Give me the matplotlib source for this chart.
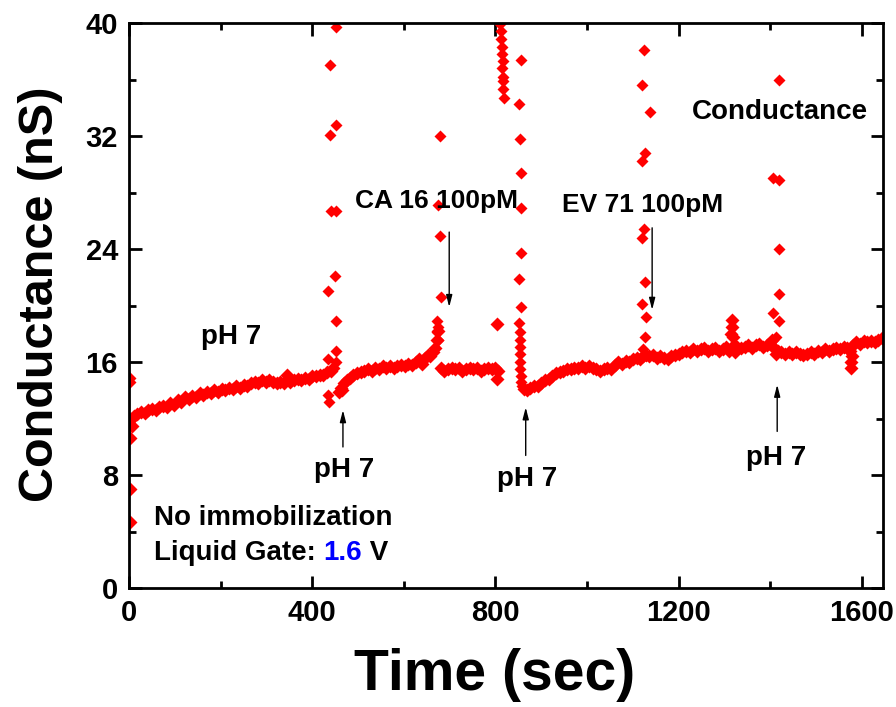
import numpy as np
import matplotlib.pyplot as plt

# baseline drift + injection spikes (time in s, conductance in nS)
t_start = [0, 1, 2, 3, 2, 4, 6, 10, 18, 26, 34, 42, 50, 58, 66, 74, 82, 90, 98, 106, 114,
           122, 130, 138, 146, 154, 162, 170, 178, 186, 194, 202, 210, 218, 226, 234, 242,
           250, 258, 266, 274, 282, 290, 298, 306, 314, 322, 330, 338, 344, 348, 352, 360,
           368, 376, 384, 392, 400, 408, 416, 424, 432, 440, 446]
g_start = [14.9, 14.6, 7.0, 4.7, 10.6, 12.0, 11.5, 12.2, 12.3, 12.5, 12.4, 12.6, 12.7, 12.6,
           12.8, 12.9, 12.8, 13.1, 13.0, 13.3, 13.2, 13.5, 13.4, 13.6, 13.5, 13.8, 13.7, 13.9,
           13.8, 14.0, 13.9, 14.1, 14.0, 14.2, 14.1, 14.3, 14.2, 14.4, 14.3, 14.5, 14.6, 14.5,
           14.7, 14.6, 14.7, 14.6, 14.5, 14.6, 14.5, 15.1, 14.8, 14.6, 14.7, 14.8, 14.7, 14.9,
           14.8, 15.0, 15.0, 15.1, 15.1, 15.3, 15.4, 15.6]

t_spike1 = [452, 439, 452, 439, 441, 452, 450, 435, 452, 452, 435, 452, 435, 437]
g_spike1 = [39.7, 37.0, 32.8, 32.1, 26.7, 26.7, 22.1, 21.0, 18.9, 16.8, 16.2, 16.0, 13.7, 13.2]

t_mid1 = [458, 462, 466, 470, 476, 482, 490, 498, 506, 514, 522, 530, 538, 546, 554, 562,
          570, 578, 586, 594, 602, 610, 618, 626, 634, 640, 646, 652, 658, 664, 668, 672, 675]
g_mid1 = [13.9, 14.2, 14.0, 14.5, 14.7, 14.9, 15.1, 15.2, 15.3, 15.4, 15.5, 15.4, 15.6, 15.5,
          15.7, 15.6, 15.7, 15.6, 15.7, 15.8, 15.7, 15.9, 15.8, 16.0, 16.2, 15.9, 16.3, 16.5,
          16.4, 16.7, 17.0, 17.6, 18.2]

t_spike2 = [678, 675, 678, 680, 673, 675, 673, 675]
g_spike2 = [32.0, 27.1, 24.9, 20.6, 18.9, 18.5, 18.1, 17.6]

t_mid2 = [682, 688, 696, 704, 712, 720, 728, 736, 744, 752, 760, 768, 776, 784, 792, 800,
          805, 803, 804]
g_mid2 = [15.6, 15.4, 15.5, 15.6, 15.5, 15.6, 15.4, 15.5, 15.6, 15.5, 15.6, 15.4, 15.5, 15.6,
          15.5, 15.6, 15.4, 18.7, 14.8]

t_spike3 = [808, 810, 812, 813, 814, 815, 816, 815, 816, 816, 817, 818, 820]
g_spike3 = [45.0, 39.9, 39.4, 38.9, 38.3, 37.8, 37.3, 36.8, 36.2, 35.9, 35.3, 34.7, 43.0]

t_spike4 = [855, 851, 853, 855, 855, 855, 851, 855, 851, 853, 853, 854, 853, 854, 853, 855,
            856, 858]
g_spike4 = [37.4, 34.3, 31.8, 29.4, 26.9, 23.7, 21.9, 19.9, 18.8, 18.1, 17.6, 17.1, 16.6,
            16.0, 15.5, 15.0, 14.6, 14.3]

t_mid3 = [862, 868, 876, 884, 892, 900, 908, 916, 924, 932, 940, 948, 956, 964, 972, 980,
          988, 996, 1004, 1012, 1020, 1028, 1036, 1044, 1052, 1060, 1068, 1076, 1084, 1092,
          1100, 1108, 1116, 1122]
g_mid3 = [14.1, 14.0, 14.2, 14.3, 14.3, 14.5, 14.7, 14.8, 15.0, 15.2, 15.3, 15.4, 15.5, 15.5,
          15.6, 15.6, 15.7, 15.6, 15.7, 15.6, 15.5, 15.4, 15.5, 15.6, 15.5, 15.8, 16.0, 15.9,
          16.1, 16.0, 16.2, 16.3, 16.2, 16.4]

t_spike5 = [1124, 1120, 1137, 1126, 1120, 1124, 1120, 1126, 1120, 1128, 1126, 1122]
g_spike5 = [38.1, 35.6, 33.7, 30.8, 30.2, 25.4, 24.8, 21.7, 20.1, 19.2, 17.8, 16.9]

t_end = [1128, 1136, 1144, 1152, 1160, 1168, 1176, 1184, 1192, 1200, 1208, 1216, 1224, 1232,
         1240, 1248, 1256, 1264, 1272, 1280, 1288, 1296, 1304, 1310, 1314, 1316, 1317, 1318,
         1320, 1322, 1328, 1336, 1344, 1352, 1360, 1368, 1376, 1384, 1392, 1400, 1404, 1408,
         1412, 1416, 1424, 1432, 1440, 1448, 1456, 1464, 1472, 1480, 1488, 1496, 1504, 1512,
         1520, 1528, 1536, 1544, 1552, 1560, 1568, 1574, 1576, 1577, 1578, 1580, 1588, 1596,
         1604, 1612, 1620, 1628, 1636, 1644]
g_end = [16.5, 16.4, 16.5, 16.3, 16.4, 16.3, 16.2, 16.4, 16.5, 16.6, 16.7, 16.8, 16.7, 16.9,
         16.8, 16.9, 17.0, 16.8, 16.9, 17.0, 16.8, 16.9, 17.1, 16.8, 18.0, 19.0, 18.5, 17.8,
         17.2, 16.7, 17.1, 17.0, 17.1, 17.2, 17.0, 17.2, 17.3, 17.1, 17.2, 17.3, 17.6, 17.0,
         16.6, 16.8, 16.7, 16.6, 16.7, 16.6, 16.7, 16.6, 16.5, 16.6, 16.7, 16.6, 16.8, 16.7,
         16.9, 16.8, 16.9, 17.0, 16.9, 17.1, 17.0, 16.8, 16.0, 15.6, 16.4, 17.2, 17.4, 17.3,
         17.5, 17.4, 17.5, 17.4, 17.6, 17.7]

t_spike6 = [1419, 1406, 1419, 1419, 1419, 1406, 1419, 1412]
g_spike6 = [36.0, 29.0, 28.9, 24.0, 20.8, 19.5, 18.9, 17.8]

t_base = np.concatenate([t_start, t_mid1, t_mid2, t_mid3, t_end])
g_base = np.concatenate([g_start, g_mid1, g_mid2, g_mid3, g_end])
t_spk = np.concatenate([t_spike1, t_spike2, t_spike3, t_spike4, t_spike5, t_spike6])
g_spk = np.concatenate([g_spike1, g_spike2, g_spike3, g_spike4, g_spike5, g_spike6])

plt.rcParams['font.family'] = ['Liberation Sans', 'DejaVu Sans']
plt.rcParams['font.weight'] = 'bold'

fig = plt.figure(figsize=(8.96, 7.07), dpi=100)
ax = fig.add_axes([0.144, 0.168, 0.8415, 0.7995])

# baseline band is a dense cloud of points -> slightly larger markers
ax.plot(t_base, g_base, 'D', color='red', ms=7.5, mec='none')
ax.plot(t_spk, g_spk, 'D', color='red', ms=6, mec='none')

ax.set_xlim(0, 1646)
ax.set_ylim(0, 40)
ax.set_xticks([0, 400, 800, 1200, 1600])
ax.set_xticks([200, 600, 1000, 1400], minor=True)
ax.set_yticks([0, 8, 16, 24, 32, 40])
ax.set_yticks([4, 12, 20, 28, 36], minor=True)
ax.tick_params(which='both', direction='in', top=True, right=True, width=2,
               labelsize=21, pad=8)
ax.tick_params(which='major', length=9)
ax.tick_params(which='minor', length=5)
for s in ax.spines.values():
    s.set_linewidth(2)

ax.set_xlabel('Time (sec)', fontsize=41, fontweight='bold')
ax.set_ylabel('Conductance (nS)', fontsize=35, fontweight='bold')
ax.xaxis.set_label_coords(0.485, -0.105)
ax.yaxis.set_label_coords(-0.087, 0.52)

txt = dict(fontsize=20, fontweight='bold', ha='center', va='center')
arr = dict(arrowstyle='-|>,head_width=0.18,head_length=0.7', color='black', lw=1)

ax.text(222, 17.8, 'pH 7', **txt)
ax.annotate('', xy=(467, 12.8), xytext=(467, 9.8), arrowprops=arr)
ax.text(469, 8.4, 'pH 7', **txt)

ax.text(672, 27.4, 'CA 16 100pM', fontsize=19, fontweight='bold', ha='center', va='center')
ax.annotate('', xy=(699, 19.7), xytext=(699, 25.4), arrowprops=arr)

ax.text(1120, 27.1, 'EV 71 100pM', fontsize=19, fontweight='bold', ha='center', va='center')
ax.annotate('', xy=(1142, 19.5), xytext=(1142, 25.7), arrowprops=arr)

ax.annotate('', xy=(866, 13.0), xytext=(866, 9.2), arrowprops=arr)
ax.text(869, 7.7, 'pH 7', **txt)

ax.annotate('', xy=(1415, 14.6), xytext=(1415, 10.9), arrowprops=arr)
ax.text(1412, 9.2, 'pH 7', **txt)

ax.text(1422, 33.7, 'Conductance', **txt)

ax.text(55, 5.0, 'No immobilization', fontsize=20, fontweight='bold', va='center')
t1 = ax.text(55, 2.5, 'Liquid Gate: ', fontsize=20, fontweight='bold', va='center')
t2 = ax.annotate('1.6', xycoords=t1, xy=(1, 0.5), va='center', fontsize=20,
                 fontweight='bold', color='#0000ff')
ax.annotate(' V', xycoords=t2, xy=(1, 0.5), va='center', fontsize=20, fontweight='bold')

fig.savefig('out.png', dpi=100)
